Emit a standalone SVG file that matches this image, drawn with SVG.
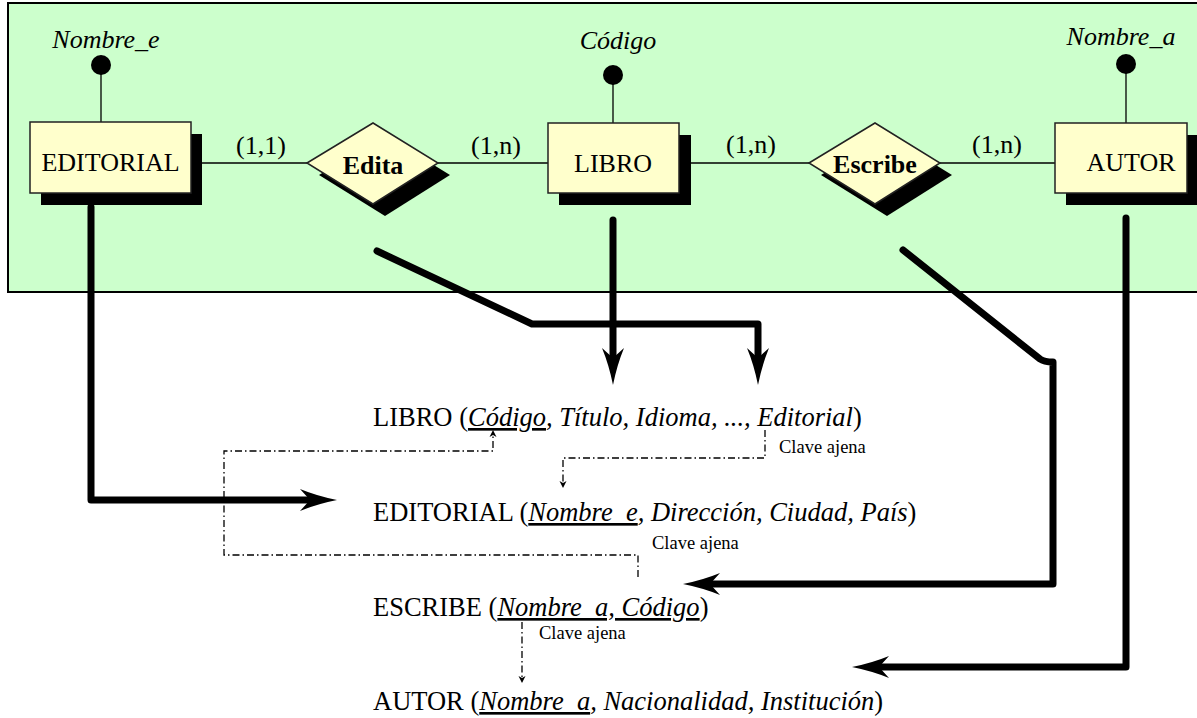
<svg xmlns="http://www.w3.org/2000/svg" width="1197" height="718" viewBox="0 0 1197 718">
  <style>
    .txt { font-family: "Liberation Serif", "Times New Roman", serif; fill: #000; }
    .lbl { font-size: 26px; }
    .attr { font-size: 26px; font-style: italic; }
    .rel { font-size: 26px; font-weight: bold; }
    .row { font-size: 26.5px; }
    .it { font-style: italic; }
    .ul { text-decoration: underline; }
    .note { font-size: 18.5px; }
    .entity { fill: #FFFFCC; stroke: #222; stroke-width: 1.5; }
    .shadow { fill: #000; }
    .thin { stroke: #000; stroke-width: 1.3; fill: none; }
    .thick { stroke: #000; stroke-width: 7; fill: none; stroke-linecap: round; stroke-linejoin: round; marker-end: url(#bigArrow); }
    .fk { stroke: #000; stroke-width: 1.3; fill: none; stroke-dasharray: 7 3 1.5 3; marker-end: url(#smallArrow); }
  </style>
  <defs>
    <marker id="bigArrow" markerUnits="userSpaceOnUse" markerWidth="40" markerHeight="24" refX="10" refY="12" orient="auto" overflow="visible">
      <path d="M37,12 Q17,8 0,1 L10,12 L0,23 Q17,16 37,12 Z" fill="#000"/>
    </marker>
    <marker id="smallArrow" markerUnits="userSpaceOnUse" markerWidth="10" markerHeight="8" refX="2" refY="3.5" orient="auto" overflow="visible">
      <path d="M7,3.5 L0,0 L2,3.5 L0,7 Z" fill="#000"/>
    </marker>
  </defs>

  <!-- conceptual model panel -->
  <rect id="panel" x="8" y="3" width="1195" height="289" fill="#CCFFCC" stroke="#000" stroke-width="2"/>

  <!-- thin ER links and attribute stems -->
  <g id="er-links">
    <line class="thin" x1="202" y1="163" x2="307" y2="163"/>
    <line class="thin" x1="438" y1="163" x2="553" y2="163"/>
    <line class="thin" x1="691" y1="163" x2="809" y2="163"/>
    <line class="thin" x1="940" y1="163" x2="1055" y2="163"/>
    <line class="thin" x1="101" y1="65" x2="101" y2="122"/>
    <line class="thin" x1="613" y1="75" x2="613" y2="123"/>
    <line class="thin" x1="1126" y1="64" x2="1126" y2="123"/>
  </g>

  <g id="editorial">
    <rect class="shadow" x="41" y="134" width="161" height="71"/>
    <rect class="entity" x="30" y="122" width="161" height="71"/>
    <text class="txt lbl" x="110.5" y="171" text-anchor="middle">EDITORIAL</text>
    <circle cx="101" cy="65" r="10" fill="#000"/>
    <text class="txt attr" x="106" y="48" text-anchor="middle">Nombre_e</text>
  </g>

  <g id="edita">
    <polygon class="shadow" points="319,175 385,135 450,175 385,216"/>
    <polygon class="entity" points="307,163 373,123 438,163 373,204"/>
    <text class="txt rel" x="373" y="174" text-anchor="middle">Edita</text>
  </g>

  <g id="libro">
    <rect class="shadow" x="559" y="135" width="132" height="70"/>
    <rect class="entity" x="548" y="123" width="131" height="70"/>
    <text class="txt lbl" x="613" y="172" text-anchor="middle">LIBRO</text>
    <circle cx="613" cy="75" r="10" fill="#000"/>
    <text class="txt attr" x="618" y="49" text-anchor="middle">Código</text>
  </g>

  <g id="escribe">
    <polygon class="shadow" points="821,175 887,135 952,175 887,216"/>
    <polygon class="entity" points="809,163 875,123 940,163 875,204"/>
    <text class="txt rel" x="875" y="173" text-anchor="middle">Escribe</text>
  </g>

  <g id="autor">
    <rect class="shadow" x="1066" y="135" width="132" height="70"/>
    <rect class="entity" x="1055" y="123" width="132" height="70"/>
    <text class="txt lbl" x="1131" y="171" text-anchor="middle">AUTOR</text>
    <circle cx="1126" cy="64" r="10" fill="#000"/>
    <text class="txt attr" x="1121" y="45" text-anchor="middle">Nombre_a</text>
  </g>

  <g id="cardinalities">
    <text class="txt lbl" x="261" y="154" text-anchor="middle">(1,1)</text>
    <text class="txt lbl" x="496" y="154" text-anchor="middle">(1,n)</text>
    <text class="txt lbl" x="751" y="153" text-anchor="middle">(1,n)</text>
    <text class="txt lbl" x="997" y="153" text-anchor="middle">(1,n)</text>
  </g>

  <!-- relational schema -->
  <g id="rel-libro">
    <text class="txt row" x="373" y="426">LIBRO (<tspan class="it ul">Código</tspan><tspan class="it">, Título, Idioma, ..., Editorial</tspan>)</text>
    <text class="txt note" x="779" y="453">Clave ajena</text>
  </g>
  <g id="rel-editorial">
    <text class="txt row" x="373" y="521">EDITORIAL (<tspan class="it ul">Nombre_e</tspan><tspan class="it">, Dirección, Ciudad, País</tspan>)</text>
    <text class="txt note" x="652" y="549">Clave ajena</text>
  </g>
  <g id="rel-escribe">
    <text class="txt row" x="373" y="616">ESCRIBE (<tspan class="it ul">Nombre_a, Código</tspan>)</text>
    <text class="txt note" x="539" y="639">Clave ajena</text>
  </g>
  <g id="rel-autor">
    <text class="txt row" x="373" y="710">AUTOR (<tspan class="it ul">Nombre_a</tspan><tspan class="it">, Nacionalidad, Institución</tspan>)</text>
  </g>

  <!-- mapping arrows and foreign-key references -->
  <g id="connectors">
    <path class="thick" d="M91,207 L91,500 L310,500"/>
    <path class="thick" d="M377,251 L532,324 L758,324 L758,358"/>
    <path class="thick" d="M613,220 L613,358"/>
    <path class="thick" d="M903,250 L1040,359 Q1044,362 1053,362 L1053,584 L710,584"/>
    <path class="thick" d="M1126,218 L1126,667 L879,667"/>
    <path class="fk" d="M638,577 L638,555 L224,555 L224,451 L493,451 L493,435"/>
    <path class="fk" d="M765,430 L765,458 L563,458 L563,483"/>
    <path class="fk" d="M522,622 L522,678"/>
  </g>
</svg>
